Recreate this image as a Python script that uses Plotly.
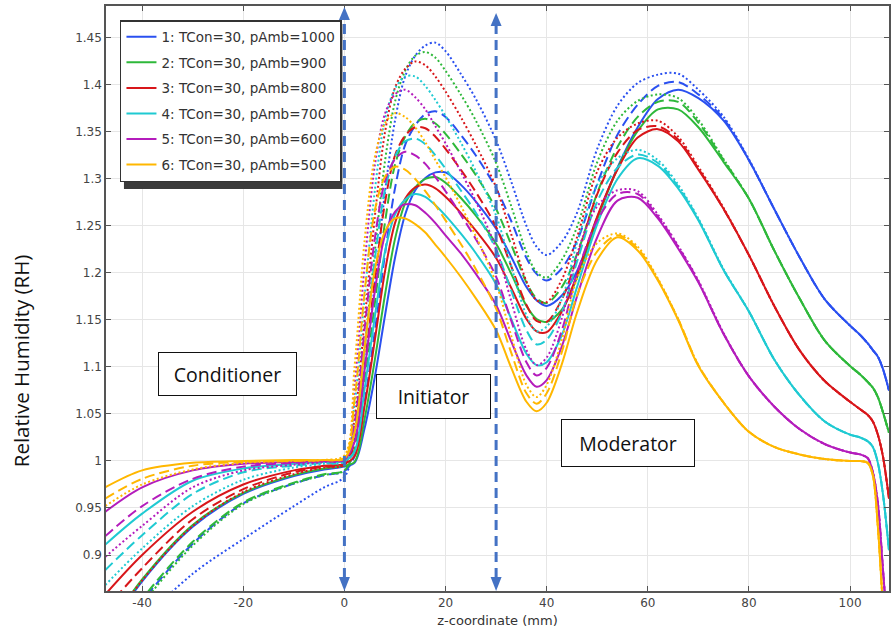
import plotly.graph_objects as go

# ---------------- data ----------------
z_mm = [-47.3, -40, -30, -20, -10, -4, 0, 2, 4, 6, 8, 10, 12, 14, 16, 18, 20, 23, 26, 30,
        33, 36, 38, 40, 43, 46, 50, 54, 58, 62, 66, 70, 75, 80, 85, 90, 95, 100,
        102, 103.5, 104.5, 105.5, 106.5, 107.7]

series_names = ["1: TCon=30, pAmb=1000", "2: TCon=30, pAmb=900", "3: TCon=30, pAmb=800",
                "4: TCon=30, pAmb=700", "5: TCon=30, pAmb=600", "6: TCon=30, pAmb=500"]

# pAmb = 1000
rh_1000_solid = [0.815, 0.872, 0.930, 0.965, 0.984, 0.991, 0.994,
                 0.998, 1.035, 1.089, 1.154, 1.216, 1.262, 1.288, 1.301, 1.307, 1.307,
                 1.294, 1.276, 1.247, 1.217, 1.185, 1.171, 1.165,
                 1.176, 1.202, 1.259, 1.312, 1.355, 1.385, 1.395, 1.386,
                 1.362, 1.320, 1.268, 1.217, 1.172, 1.144,
                 1.134, 1.125, 1.118, 1.111, 1.098, 1.075]
rh_1000_dash = [0.790, 0.850, 0.912, 0.955, 0.976, 0.985, 0.989,
                1.005, 1.063, 1.137, 1.219, 1.290, 1.336, 1.357, 1.369, 1.372, 1.366,
                1.347, 1.325, 1.290, 1.255, 1.216, 1.199, 1.192,
                1.205, 1.234, 1.295, 1.347, 1.379, 1.399, 1.403, 1.390,
                1.364, 1.320, 1.268, 1.217, 1.172, 1.144,
                1.134, 1.125, 1.118, 1.111, 1.098, 1.075]
rh_1000_dot = [0.770, 0.828, 0.880, 0.917, 0.952, 0.972, 0.983,
               1.022, 1.098, 1.187, 1.285, 1.362, 1.409, 1.431, 1.442, 1.445, 1.436,
               1.412, 1.385, 1.341, 1.297, 1.250, 1.228, 1.219,
               1.233, 1.264, 1.332, 1.378, 1.402, 1.411, 1.412, 1.395,
               1.366, 1.321, 1.268, 1.217, 1.172, 1.144,
               1.134, 1.125, 1.118, 1.111, 1.098, 1.075]
# pAmb = 900
rh_900_solid = [0.818, 0.874, 0.932, 0.966, 0.985, 0.992, 0.995,
                0.999, 1.045, 1.107, 1.176, 1.236, 1.274, 1.291, 1.300, 1.302, 1.296,
                1.280, 1.261, 1.231, 1.199, 1.165, 1.151, 1.148,
                1.161, 1.195, 1.257, 1.311, 1.351, 1.374, 1.374, 1.355,
                1.318, 1.279, 1.224, 1.173, 1.128, 1.101,
                1.092, 1.084, 1.078, 1.068, 1.052, 1.030]
rh_900_dash = [0.795, 0.853, 0.914, 0.956, 0.977, 0.986, 0.990,
               1.012, 1.083, 1.167, 1.253, 1.315, 1.345, 1.360, 1.364, 1.359, 1.348,
               1.327, 1.304, 1.268, 1.230, 1.190, 1.173, 1.168,
               1.185, 1.220, 1.285, 1.334, 1.366, 1.382, 1.382, 1.360,
               1.320, 1.279, 1.224, 1.173, 1.128, 1.101,
               1.092, 1.084, 1.078, 1.068, 1.052, 1.030]
rh_900_dot = [0.785, 0.847, 0.910, 0.954, 0.976, 0.985, 0.990,
              1.030, 1.122, 1.222, 1.318, 1.382, 1.415, 1.431, 1.435, 1.429, 1.415,
              1.390, 1.362, 1.317, 1.271, 1.222, 1.201, 1.195,
              1.214, 1.249, 1.318, 1.362, 1.383, 1.390, 1.386, 1.363,
              1.321, 1.279, 1.224, 1.173, 1.128, 1.101,
              1.092, 1.084, 1.078, 1.068, 1.052, 1.030]
# pAmb = 800
rh_800_solid = [0.858, 0.900, 0.946, 0.975, 0.990, 0.995, 0.997,
                1.005, 1.059, 1.128, 1.201, 1.253, 1.279, 1.291, 1.294, 1.290, 1.281,
                1.264, 1.245, 1.216, 1.184, 1.151, 1.138, 1.137,
                1.159, 1.198, 1.260, 1.310, 1.344, 1.353, 1.340, 1.310,
                1.268, 1.219, 1.165, 1.118, 1.085, 1.063,
                1.055, 1.049, 1.042, 1.028, 1.005, 0.960]
rh_800_dash = [0.842, 0.886, 0.938, 0.970, 0.988, 0.994, 0.996,
               1.020, 1.101, 1.192, 1.274, 1.325, 1.346, 1.355, 1.354, 1.345, 1.332,
               1.310, 1.286, 1.249, 1.207, 1.166, 1.149, 1.148,
               1.172, 1.216, 1.284, 1.328, 1.352, 1.356, 1.342, 1.311,
               1.268, 1.219, 1.165, 1.118, 1.085, 1.063,
               1.055, 1.049, 1.042, 1.028, 1.005, 0.960]
rh_800_dot = [0.817, 0.873, 0.931, 0.967, 0.986, 0.993, 0.996,
              1.045, 1.150, 1.259, 1.349, 1.397, 1.417, 1.425, 1.421, 1.409, 1.393,
              1.366, 1.336, 1.291, 1.241, 1.191, 1.171, 1.169,
              1.193, 1.238, 1.308, 1.344, 1.359, 1.362, 1.345, 1.313,
              1.269, 1.219, 1.165, 1.118, 1.085, 1.063,
              1.055, 1.049, 1.042, 1.028, 1.005, 0.960]
# pAmb = 700
rh_700_solid = [0.911, 0.944, 0.979, 0.992, 0.997, 0.999, 1.000,
                1.010, 1.077, 1.153, 1.222, 1.262, 1.278, 1.284, 1.281, 1.272, 1.261,
                1.242, 1.221, 1.188, 1.151, 1.114, 1.102, 1.105,
                1.134, 1.185, 1.252, 1.300, 1.322, 1.314, 1.290, 1.256,
                1.203, 1.159, 1.108, 1.070, 1.042, 1.028,
                1.025, 1.021, 1.015, 0.998, 0.965, 0.905]
rh_700_dash = [0.884, 0.921, 0.965, 0.988, 0.995, 0.998, 0.999,
               1.030, 1.119, 1.214, 1.288, 1.324, 1.340, 1.343, 1.337, 1.325, 1.311,
               1.288, 1.264, 1.225, 1.181, 1.139, 1.124, 1.129,
               1.158, 1.212, 1.276, 1.312, 1.326, 1.317, 1.292, 1.257,
               1.203, 1.159, 1.108, 1.070, 1.042, 1.028,
               1.025, 1.021, 1.015, 0.998, 0.965, 0.905]
rh_700_dot = [0.868, 0.907, 0.952, 0.980, 0.993, 0.997, 1.000,
              1.060, 1.175, 1.287, 1.363, 1.396, 1.409, 1.409, 1.399, 1.384, 1.367,
              1.339, 1.308, 1.261, 1.207, 1.155, 1.138, 1.143,
              1.172, 1.232, 1.294, 1.322, 1.331, 1.320, 1.294, 1.258,
              1.204, 1.159, 1.108, 1.070, 1.042, 1.028,
              1.025, 1.021, 1.015, 0.998, 0.965, 0.905]
# pAmb = 600
rh_600_solid = [0.946, 0.972, 0.990, 0.997, 0.999, 1.000, 1.002,
                1.020, 1.097, 1.180, 1.240, 1.265, 1.273, 1.272, 1.264, 1.253, 1.240,
                1.221, 1.199, 1.166, 1.127, 1.091, 1.079, 1.086,
                1.122, 1.175, 1.238, 1.277, 1.280, 1.258, 1.226, 1.190,
                1.135, 1.090, 1.058, 1.034, 1.018, 1.009,
                1.007, 1.003, 0.988, 0.955, 0.885, 0.800]
rh_600_dash = [0.920, 0.952, 0.981, 0.994, 0.998, 1.000, 1.001,
               1.040, 1.141, 1.236, 1.297, 1.321, 1.329, 1.325, 1.316, 1.302, 1.287,
               1.262, 1.236, 1.196, 1.149, 1.105, 1.091, 1.099,
               1.139, 1.199, 1.256, 1.284, 1.284, 1.260, 1.228, 1.191,
               1.135, 1.090, 1.058, 1.034, 1.018, 1.009,
               1.007, 1.003, 0.988, 0.955, 0.885, 0.800]
rh_600_dot = [0.898, 0.931, 0.972, 0.990, 0.996, 0.999, 1.002,
              1.080, 1.209, 1.314, 1.369, 1.390, 1.395, 1.387, 1.374, 1.356, 1.338,
              1.308, 1.276, 1.226, 1.170, 1.118, 1.102, 1.110,
              1.152, 1.220, 1.271, 1.288, 1.287, 1.262, 1.229, 1.192,
              1.136, 1.090, 1.058, 1.034, 1.018, 1.009,
              1.007, 1.003, 0.988, 0.955, 0.885, 0.800]
# pAmb = 500
rh_500_solid = [0.972, 0.990, 0.998, 1.000, 1.001, 1.001, 1.003,
                1.030, 1.121, 1.203, 1.244, 1.258, 1.258, 1.252, 1.243, 1.230, 1.217,
                1.196, 1.173, 1.139, 1.099, 1.063, 1.053, 1.062,
                1.103, 1.158, 1.214, 1.238, 1.224, 1.192, 1.150, 1.101,
                1.062, 1.031, 1.015, 1.007, 1.002, 1.000,
                1.000, 0.998, 0.985, 0.930, 0.845, 0.750]
rh_500_dash = [0.960, 0.981, 0.995, 0.999, 1.000, 1.001, 1.003,
               1.065, 1.180, 1.266, 1.302, 1.313, 1.310, 1.300, 1.287, 1.272, 1.256,
               1.231, 1.204, 1.162, 1.115, 1.072, 1.061, 1.072,
               1.116, 1.176, 1.223, 1.240, 1.226, 1.193, 1.151, 1.102,
               1.062, 1.031, 1.015, 1.007, 1.002, 1.000,
               1.000, 0.998, 0.985, 0.930, 0.845, 0.750]
rh_500_dot = [0.952, 0.975, 0.991, 0.998, 1.000, 1.001, 1.006,
              1.100, 1.235, 1.323, 1.359, 1.370, 1.366, 1.355, 1.339, 1.320, 1.302,
              1.272, 1.239, 1.189, 1.133, 1.081, 1.068, 1.081,
              1.129, 1.194, 1.232, 1.242, 1.228, 1.194, 1.151, 1.102,
              1.062, 1.031, 1.015, 1.007, 1.002, 1.000,
              1.000, 0.998, 0.985, 0.930, 0.845, 0.750]

y_tick_vals = [0.9, 0.95, 1.0, 1.05, 1.1, 1.15, 1.2, 1.25, 1.3, 1.35, 1.4, 1.45]
y_tick_text = ["0.9", "0.95", "1", "1.05", "1.1", "1.15", "1.2", "1.25", "1.3", "1.35", "1.4", "1.45"]
x_tick_vals = [-40, -20, 0, 20, 40, 60, 80, 100]
x_tick_text = ["-40", "-20", "0", "20", "40", "60", "80", "100"]

section_bounds = [0, 30]          # z positions of the double arrows
section_labels = ["Conditioner", "Initiator", "Moderator"]

# ---------------- styling / layout ----------------
colors = ["#2a50f0", "#2eb83a", "#d8161a", "#1fcad2", "#b41cbc", "#ffb700"]
groups = [
    (rh_1000_solid, rh_1000_dash, rh_1000_dot),
    (rh_900_solid, rh_900_dash, rh_900_dot),
    (rh_800_solid, rh_800_dash, rh_800_dot),
    (rh_700_solid, rh_700_dash, rh_700_dot),
    (rh_600_solid, rh_600_dash, rh_600_dot),
    (rh_500_solid, rh_500_dash, rh_500_dot),
]

W, H = 891, 634
ML, MR, MT, MB = 106, 0, 6, 43
X0, X1 = -47.15, 107.7
Y0, Y1 = 0.8617, 1.484
PW, PH = W - ML - MR, H - MT - MB


def px2x(px):
    return X0 + (px - ML) / PW * (X1 - X0)


def py2y(py):
    return Y1 - (py - MT) / PH * (Y1 - Y0)


def dxpx(d):
    return d / PW * (X1 - X0)


fig = go.Figure()
for i, (solid, dash, dot) in enumerate(groups):
    for vals, dsh, show in ((dot, "2px,2.5px", False), (dash, "10px,5px", False), (solid, "solid", True)):
        fig.add_trace(go.Scatter(
            x=z_mm, y=vals, mode="lines", name=series_names[i],
            legendgroup=str(i), showlegend=show,
            line=dict(color=colors[i], width=2, dash=dsh, shape="spline", smoothing=0.9),
            hoverinfo="skip"))

shapes = []
# legend drop shadow
shapes.append(dict(type="rect", xref="x", yref="y",
                   x0=px2x(124), x1=px2x(343), y0=py2y(189), y1=py2y(24),
                   fillcolor="#3a3a3a", line=dict(width=0), layer="above"))

arrow_col = "#4472c4"
for zb, top_tip in zip(section_bounds, (7, 13)):
    hw = dxpx(5.5)
    shapes.append(dict(type="line", xref="x", yref="y", x0=zb, x1=zb,
                       y0=py2y(578), y1=py2y(top_tip + 12),
                       line=dict(color=arrow_col, width=3, dash="10px,6px"), layer="above"))
    shapes.append(dict(type="path", xref="x", yref="y",
                       path=f"M {zb},{py2y(top_tip)} L {zb - hw},{py2y(top_tip + 13)} L {zb + hw},{py2y(top_tip + 13)} Z",
                       fillcolor=arrow_col, line=dict(width=0), layer="above"))
    shapes.append(dict(type="path", xref="x", yref="y",
                       path=f"M {zb},{py2y(591)} L {zb - hw},{py2y(577)} L {zb + hw},{py2y(577)} Z",
                       fillcolor=arrow_col, line=dict(width=0), layer="above"))

box_specs = [((227.5, 374), 137, 42), ((434.5, 396.5), 113, 43), ((629, 443), 132, 46)]
annotations = []
for label, ((cx, cy), bw, bh) in zip(section_labels, box_specs):
    annotations.append(dict(x=px2x(cx), y=py2y(cy), xref="x", yref="y", text=label,
                            showarrow=False, width=bw, height=bh, align="center", valign="middle",
                            bgcolor="white", bordercolor="#111", borderwidth=1, borderpad=0,
                            font=dict(family="Open Sans", size=19.5, color="#111")))
# y-axis title (placed as in the reference, below the plot's vertical centre)
annotations.append(dict(x=(21 - ML) / PW, y=(591 - 361) / PH, xref="paper", yref="paper",
                        text="Relative Humidity (RH)", textangle=-90, showarrow=False,
                        xanchor="center", yanchor="middle",
                        font=dict(family="Open Sans", size=20.5, color="#111")))

fig.update_layout(
    width=W, height=H,
    margin=dict(l=ML, r=MR, t=MT, b=MB),
    paper_bgcolor="white", plot_bgcolor="white",
    shapes=shapes, annotations=annotations,
    showlegend=True,
    legend=dict(x=(120 - ML) / PW, y=(591 - 20) / PH, xanchor="left", yanchor="top",
                bgcolor="white", bordercolor="#333", borderwidth=1.5,
                font=dict(family="DejaVu Sans", size=13.5, color="#333"),
                traceorder="grouped", tracegroupgap=5, itemwidth=30),
    xaxis=dict(range=[X0, X1], tickvals=x_tick_vals, ticktext=x_tick_text,
               showgrid=True, gridcolor="#e6e6e6", gridwidth=1, zeroline=False,
               showline=True, linecolor="#555", linewidth=1.5, mirror="ticks",
               ticks="inside", ticklen=5, tickcolor="#555",
               tickfont=dict(family="DejaVu Sans", size=12, color="#444"),
               title=dict(text="z-coordinate (mm)", standoff=7,
                          font=dict(family="DejaVu Sans", size=13, color="#333"))),
    yaxis=dict(range=[Y0, Y1], tickvals=y_tick_vals, ticktext=y_tick_text,
               showgrid=True, gridcolor="#e6e6e6", gridwidth=1, zeroline=False,
               showline=True, linecolor="#555", linewidth=1.5, mirror="ticks",
               ticks="inside", ticklen=5, tickcolor="#555",
               tickfont=dict(family="DejaVu Sans", size=12, color="#444")),
)

fig.write_html("out.html", config={"displayModeBar": False},
               post_script="document.body.style.margin='0';")
